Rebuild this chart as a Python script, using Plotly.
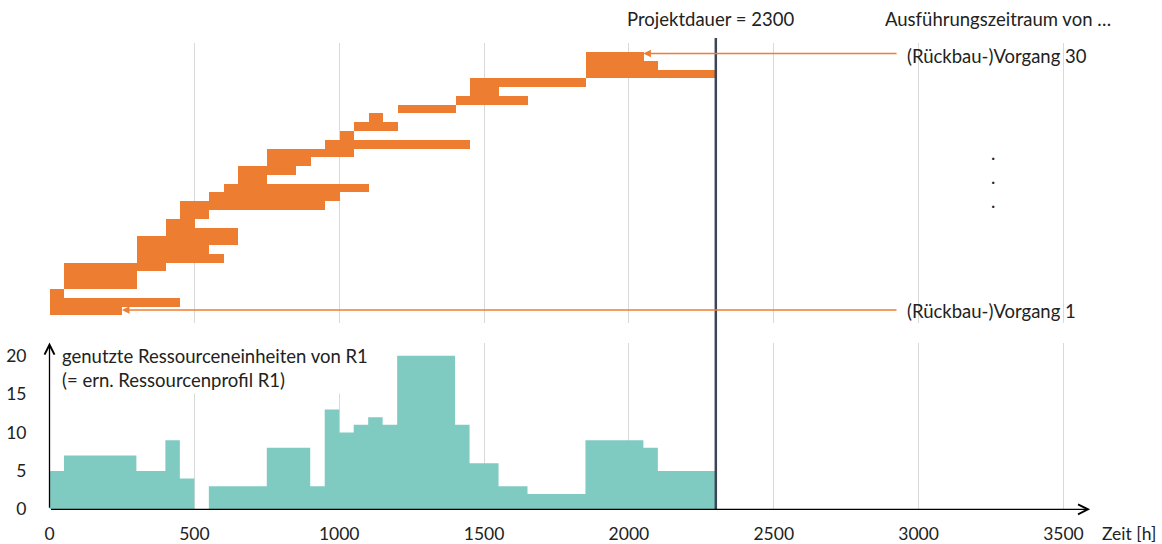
import plotly.graph_objects as go

# ---------------- data ----------------
task_ids = list(range(1, 31))
task_start = [0, 0, 0, 50, 50, 50, 300, 300, 300, 400, 400, 450, 450, 550, 600,
              650, 650, 750, 750, 950, 1000, 1050, 1100, 1200, 1400, 1450, 1450,
              1850, 1850, 1850]
task_end = [250, 450, 50, 300, 300, 400, 600, 550, 650, 650, 500, 550, 950, 1000, 1100,
            750, 850, 900, 1050, 1450, 1050, 1200, 1150, 1400, 1650, 1550, 1850,
            2300, 2100, 2050]

res_start = [0, 50, 300, 400, 450, 500, 550, 750, 900, 950, 1000, 1050, 1100, 1150,
             1200, 1400, 1450, 1550, 1650, 1850, 2050, 2100]
res_value = [5, 7, 5, 9, 4, 0, 3, 8, 3, 13, 10, 11, 12, 11,
             20, 11, 6, 3, 2, 9, 8, 5]
project_end = 2300

x_ticks = [0, 500, 1000, 1500, 2000, 2500, 3000, 3500]
y_ticks = [0, 5, 10, 15, 20]

# ---------------- geometry ----------------
W, H = 1162, 544
X0 = 49.5            # pixel of x = 0
SCALE = 0.2897       # px per hour
XMAX = 3800
FONT = "Lato"
FS = 18.5
FS_TICK = 17.5
TXT = "#222222"

def py(p):  # pixel row -> paper y
    return 1 - p / H

x_dom = [X0 / W, (X0 + XMAX * SCALE) / W]
row_px = 8.78
row1_px = 310.5
top_dom_px = (42.5, 323.0)
y1_range = [1 + (row1_px - top_dom_px[1]) / row_px, 1 + (row1_px - top_dom_px[0]) / row_px]
bot_dom_px = (343.0, 509.3)
unit_px = 7.68
y2_range = [0, (bot_dom_px[1] - bot_dom_px[0]) / unit_px]

ORANGE = "#ED7D31"
TEAL = "#80CBC1"
GRID = "#D9D9D9"
DARK = "#3C4656"

fig = go.Figure()

# Gantt bars
fig.add_trace(go.Bar(
    y=task_ids,
    x=[e - s for s, e in zip(task_start, task_end)],
    base=task_start,
    orientation="h",
    width=1,
    marker=dict(color=ORANGE, line=dict(width=0)),
    xaxis="x", yaxis="y",
    showlegend=False, hoverinfo="skip",
))

# Resource profile (step area)
fig.add_trace(go.Scatter(
    x=res_start + [project_end],
    y=res_value + [res_value[-1]],
    mode="lines",
    line=dict(shape="hv", width=0, color=TEAL),
    fill="tozeroy",
    fillcolor=TEAL,
    xaxis="x2", yaxis="y2",
    showlegend=False, hoverinfo="skip",
))

fig.update_layout(
    width=W, height=H,
    margin=dict(l=0, r=0, t=0, b=0, pad=0),
    paper_bgcolor="white", plot_bgcolor="white",
    font=dict(family=FONT, size=FS, color=TXT),
    bargap=0,
    xaxis=dict(domain=x_dom, range=[0, XMAX], anchor="y", automargin=False,
               showgrid=True, gridcolor=GRID, gridwidth=1,
               tickvals=x_ticks, showticklabels=False, zeroline=False,
               showline=False, ticks=""),
    yaxis=dict(domain=[py(top_dom_px[1]), py(top_dom_px[0])], range=y1_range,
               anchor="x", automargin=False, showgrid=False, zeroline=False,
               showticklabels=False, showline=False, ticks=""),
    xaxis2=dict(domain=x_dom, range=[0, XMAX], anchor="y2", matches="x", automargin=False,
                showgrid=True, gridcolor=GRID, gridwidth=1,
                tickvals=x_ticks, ticktext=[str(v) for v in x_ticks],
                zeroline=False, showline=False, ticks="",
                ticklabelstandoff=12,
                tickfont=dict(family=FONT, size=FS_TICK, color=TXT)),
    yaxis2=dict(domain=[py(bot_dom_px[1]), py(bot_dom_px[0])], range=y2_range,
                anchor="x2", automargin=False, showgrid=False, zeroline=False, showline=False,
                tickvals=y_ticks, ticks="", ticklabelstandoff=22,
                tickfont=dict(family=FONT, size=FS_TICK, color=TXT)),
)

# Project duration line
fig.add_shape(type="line", xref="x", yref="paper",
              x0=project_end, x1=project_end, y0=py(509.3), y1=py(38),
              line=dict(color=DARK, width=2.5), layer="above")

ann = []
# axis arrows
ann.append(dict(xref="x2", yref="y2", axref="x2", ayref="y2",
                x=3592, y=0, ax=0, ay=0, text="", showarrow=True,
                arrowhead=5, arrowsize=1.5, arrowwidth=1.3, arrowcolor="black", standoff=0))
ann.append(dict(xref="x2", yref="y2", axref="x2", ayref="y2",
                x=0, y=y2_range[1] + 0.05, ax=0, ay=0, text="", showarrow=True,
                arrowhead=5, arrowsize=1.5, arrowwidth=1.3, arrowcolor="black", standoff=0))
# Vorgang arrows
ann.append(dict(xref="x", yref="y", axref="x", ayref="y",
                x=task_end[29], y=30.27, ax=2929, ay=30.27, text="", showarrow=True,
                arrowhead=2, arrowsize=1, arrowwidth=1.5, arrowcolor=ORANGE, standoff=0))
ann.append(dict(xref="x", yref="y", axref="x", ayref="y",
                x=task_end[0], y=1.06, ax=2929, ay=1.06, text="", showarrow=True,
                arrowhead=2, arrowsize=1, arrowwidth=1.5, arrowcolor=ORANGE, standoff=0))
# texts
ann.append(dict(xref="x", yref="y", x=2953, y=30.0, xanchor="left", yanchor="middle",
                text="(Rückbau-)Vorgang 30", showarrow=False))
ann.append(dict(xref="x", yref="y", x=2953, y=1.0, xanchor="left", yanchor="middle",
                text="(Rückbau-)Vorgang 1", showarrow=False))
ann.append(dict(xref="x", yref="paper", x=(710 - X0) / SCALE, y=py(19),
                xanchor="center", yanchor="middle",
                text="Projektdauer = 2300", showarrow=False))
ann.append(dict(xref="x", yref="paper", x=(997.5 - X0) / SCALE, y=py(19),
                xanchor="center", yanchor="middle",
                text="Ausführungszeitraum von …", showarrow=False))
ann.append(dict(xref="x", yref="paper", x=(1100 - X0) / SCALE, y=py(533),
                xanchor="left", yanchor="middle",
                text="Zeit [h]", showarrow=False, font=dict(size=FS_TICK)))
ann.append(dict(xref="x", yref="paper", x=(59 - X0) / SCALE, y=py(342),
                xanchor="left", yanchor="top", align="left",
                text="genutzte Ressourceneinheiten von R1<br>(= ern. Ressourcenprofil R1)",
                showarrow=False, bgcolor="white", borderpad=2))
for p in (157, 181, 205):
    ann.append(dict(xref="x", yref="paper", x=(993 - X0) / SCALE, y=py(p),
                    xanchor="center", yanchor="middle", yshift=4,
                    text=".", showarrow=False))
fig.update_layout(annotations=ann)

fig.write_html("out.html",
               config={"displayModeBar": False},
               post_script="document.body.style.margin='0';document.body.style.overflow='hidden';")
